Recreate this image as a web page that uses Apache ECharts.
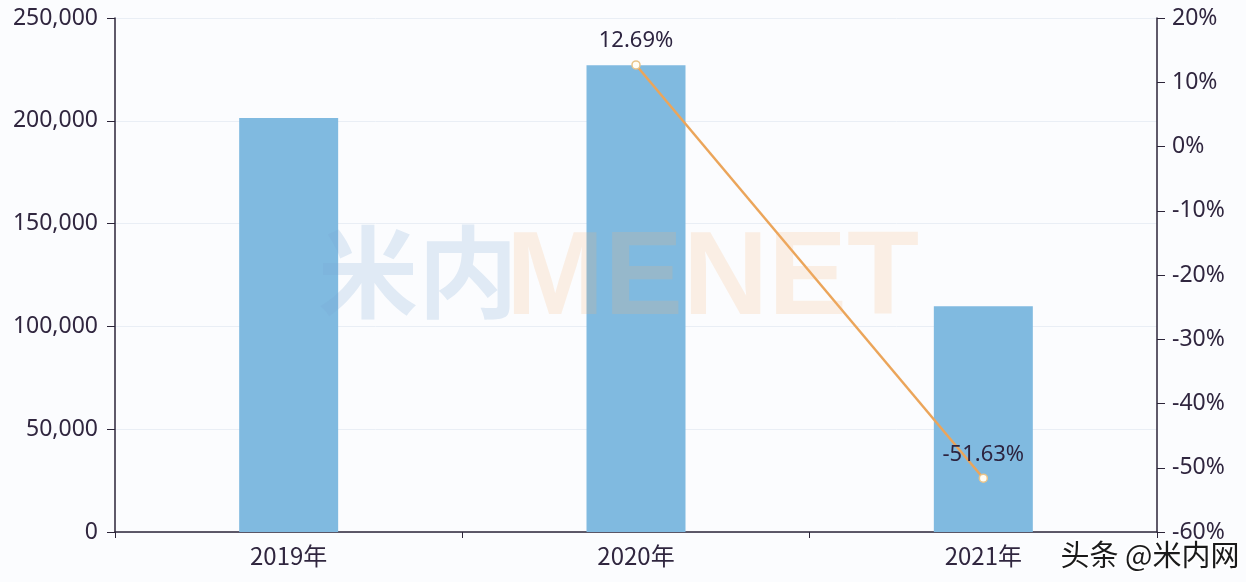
<!DOCTYPE html>
<html><head><meta charset="utf-8">
<script src="https://cdn.jsdelivr.net/npm/echarts@6/dist/echarts.min.js"></script>
<style>html,body{margin:0;padding:0;background:#fbfcfe;}#c{width:1246px;height:582px;}</style>
</head><body><div id="c"></div>
<script>
const categories = ['2019年', '2020年', '2021年'];
const salesValues = [201400, 226960, 109780];
const growthValues = [null, 12.69, -51.63];

const chart = echarts.init(document.getElementById('c'));
const axisColor = '#2b2438';
const labelColor = '#30263f';
chart.setOption({
  backgroundColor: '#fbfcfe',
  animation: false,
  grid: {left: 115, right: 89, top: 18, bottom: 50},
  xAxis: {
    type: 'category', data: categories,
    axisLine: {lineStyle: {color: axisColor, width: 1.5}},
    axisTick: {show: true, length: 6, lineStyle: {color: axisColor}},
    axisLabel: {color: labelColor, fontSize: 24, margin: 12, fontFamily: 'Noto Sans CJK SC'}
  },
  yAxis: [{
    type: 'value', min: 0, max: 250000, interval: 50000,
    axisLine: {show: true, lineStyle: {color: axisColor, width: 1.5}},
    axisTick: {show: true, length: 8, lineStyle: {color: axisColor}},
    axisLabel: {color: labelColor, fontSize: 23, margin: 17, fontFamily: 'Noto Sans',
      formatter: v => v.toLocaleString('en-US')},
    splitLine: {lineStyle: {color: '#e9eef5'}}
  }, {
    type: 'value', min: -60, max: 20, interval: 10,
    axisLine: {show: true, lineStyle: {color: axisColor, width: 1.5}},
    axisTick: {show: true, length: 8, lineStyle: {color: axisColor}},
    axisLabel: {color: labelColor, fontSize: 23, margin: 15, fontFamily: 'Noto Sans',
      formatter: v => v + '%'},
    splitLine: {show: false}
  }],
  series: [{
    type: 'bar', data: salesValues, barWidth: '28.5%', yAxisIndex: 0,
    itemStyle: {color: '#80bae0'}
  }, {
    type: 'line', data: growthValues, yAxisIndex: 1,
    symbol: 'circle', symbolSize: 8,
    lineStyle: {color: '#eba55a', width: 2.5},
    itemStyle: {color: '#fffdf5', borderColor: '#e8c48a', borderWidth: 1.5},
    label: {show: true, position: 'top', distance: 8, color: '#2d2440', fontSize: 22,
      fontFamily: 'Noto Sans', formatter: p => p.value.toFixed(2) + '%'},
    z: 5
  }],
  graphic: [
    {type: 'text', left: 318, top: 222, z: 100, style: {text: '米内', fontSize: 100, fontWeight: 'bold',
      fontFamily: 'Noto Sans CJK SC', fill: 'rgba(120,165,210,0.2)'}},
    {type: 'text', left: 506, top: 222, z: 100, style: {text: 'MENET', fontSize: 118, fontWeight: 'bold',
      fontFamily: 'Liberation Sans', fill: 'rgba(250,175,110,0.18)'}},
    {type: 'text', right: 5, bottom: 11, z: 120, style: {text: '头条 @米内网', fontSize: 29,
      fontFamily: 'Noto Sans CJK SC', fill: '#1a1a1a', stroke: '#ffffff', lineWidth: 3}}
  ]
});
</script></body></html>
